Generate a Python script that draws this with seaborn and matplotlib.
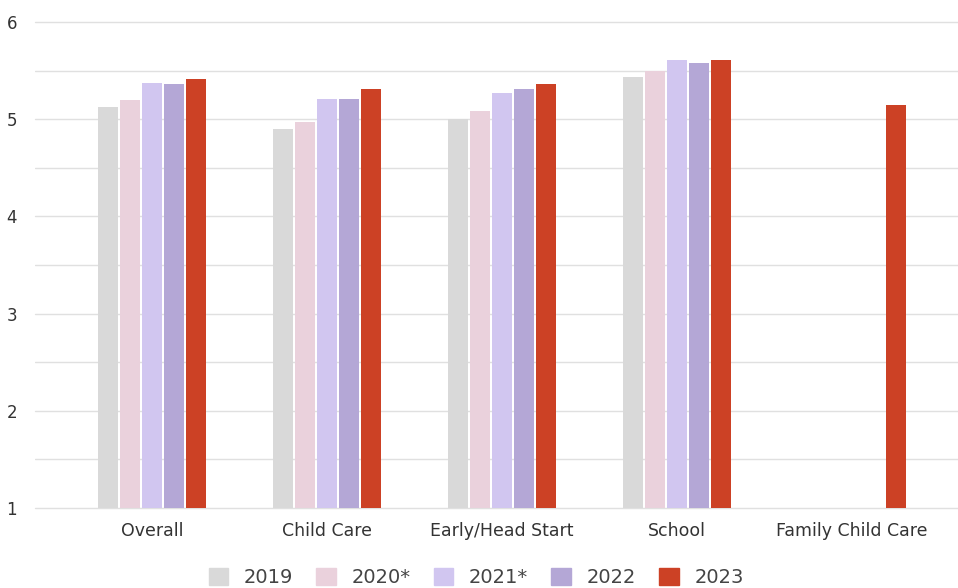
import numpy as np
import pandas as pd
import matplotlib
matplotlib.use("Agg")
import matplotlib.pyplot as plt
import seaborn as sns

# Dữ liệu
categories = ["Overall", "Child Care", "Early/Head Start", "School", "Family Child Care"]
years = ["2019", "2020*", "2021*", "2022", "2023"]
v2019 = [5.13, 4.90, 5.00, 5.43, np.nan]
v2020 = [5.20, 4.97, 5.08, 5.50, np.nan]
v2021 = [5.37, 5.21, 5.27, 5.61, np.nan]
v2022 = [5.36, 5.21, 5.31, 5.58, np.nan]
v2023 = [5.41, 5.31, 5.36, 5.61, 5.15]
colors = ["#d9d9d9", "#ead1dc", "#d1c6f0", "#b4a7d6", "#cc4125"]

rows = []
for year, vals in zip(years, [v2019, v2020, v2021, v2022, v2023]):
    for cat, v in zip(categories, vals):
        rows.append({"Category": cat, "Year": year, "Score": v})
df = pd.DataFrame(rows)

sns.set_style("white")
plt.rcParams["font.family"] = ["DejaVu Sans"]

fig = plt.figure(figsize=(9.58, 5.88), dpi=100)
ax = fig.add_axes([35 / 958, 80 / 588, 923 / 958, 486 / 588])

sns.barplot(data=df, x="Category", y="Score", hue="Year", order=categories,
            hue_order=years, palette=colors, width=0.63, gap=0.1,
            errorbar=None, saturation=1, ax=ax, zorder=3, edgecolor="none")

ax.set_ylim(1, 6)
ax.set_xlim(-117 / 175, -117 / 175 + 923 / 175)
ax.set_yticks([1, 2, 3, 4, 5, 6])
ax.set_yticks(np.arange(1.5, 6, 1), minor=True)
ax.grid(axis="y", which="both", color="#e0e0e0", linewidth=1, zorder=0)
for gl in ax.get_ygridlines() + ax.yaxis.get_minorticklines():
    gl.set_clip_on(False)
ax.tick_params(axis="y", which="both", length=0, pad=13, labelsize=12, labelcolor="#333333")
ax.tick_params(axis="x", length=0, pad=10, labelsize=12.5, labelcolor="#333333")
ax.set_xlabel("")
ax.set_ylabel("")
for s in ax.spines.values():
    s.set_visible(False)

ax.legend_.remove()
handles = [plt.Rectangle((0, 0), 1, 1, color=c) for c in colors]
fig.legend(handles, years, loc="lower center", bbox_to_anchor=(0.497, -0.028),
           ncol=5, frameon=False, fontsize=14, handlelength=1.0, handleheight=1.0,
           handletextpad=0.8, columnspacing=1.2, labelcolor="#444444")

fig.savefig("out.png", dpi=100)
